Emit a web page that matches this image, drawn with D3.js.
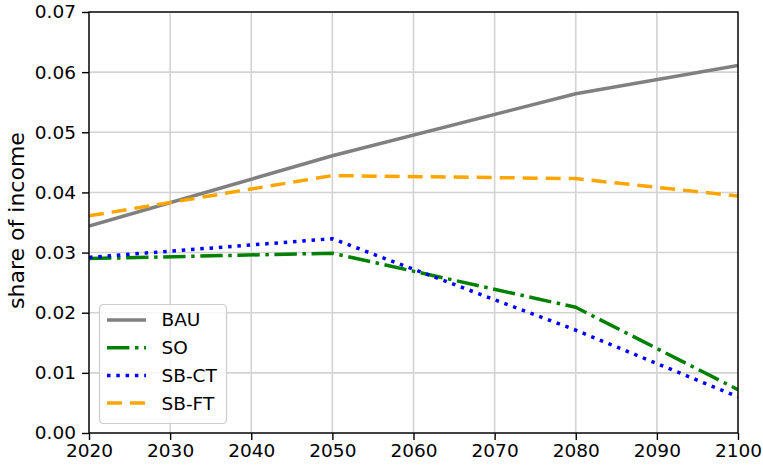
<!DOCTYPE html>
<html>
<head>
<meta charset="utf-8">
<script src="https://cdn.jsdelivr.net/npm/d3@7/dist/d3.min.js"></script>
<style>
  html, body { margin: 0; padding: 0; background: #fff; }
  svg { display: block; font-family: "DejaVu Sans", sans-serif; }
</style>
</head>
<body>
<svg id="chart" width="763" height="470"></svg>
<script>
// Scenario years and share-of-income values per scenario
const years = [2020, 2050, 2080, 2100];
const bau   = [0.0344, 0.0461, 0.0564, 0.0611];
const so    = [0.0290, 0.0299, 0.0209, 0.0072];
const sbct  = [0.0292, 0.0323, 0.0171, 0.0060];
const sbft  = [0.0361, 0.0428, 0.0423, 0.0394];

const xTicks = [2020, 2030, 2040, 2050, 2060, 2070, 2080, 2090, 2100];
const yTicks = [0, 0.01, 0.02, 0.03, 0.04, 0.05, 0.06, 0.07];
const yLabel = "share of income";

const series = [
  { name: "BAU",   values: bau,  color: "#808080", dash: null },
  { name: "SO",    values: so,   color: "#008000", dash: "22.4,5.6,3.5,5.6" },
  { name: "SB-CT", values: sbct, color: "#0000ff", dash: "3.5,5.8" },
  { name: "SB-FT", values: sbft, color: "#ffa500", dash: "15,8" }
];

const margin = { left: 89, right: 763 - 738, top: 12, bottom: 470 - 433 };
const W = 763, H = 470;
const svg = d3.select("#chart");

const x = d3.scaleLinear().domain([2020, 2100]).range([margin.left, W - margin.right]);
const y = d3.scaleLinear().domain([0, 0.07]).range([H - margin.bottom, margin.top]);

// grid
const grid = svg.append("g").attr("stroke", "#d3d3d3").attr("stroke-width", 1.6);
grid.selectAll("line.gx").data(xTicks).join("line")
  .attr("x1", d => x(d)).attr("x2", d => x(d))
  .attr("y1", y(0)).attr("y2", y(0.07));
grid.selectAll("line.gy").data(yTicks).join("line")
  .attr("x1", x(2020)).attr("x2", x(2100))
  .attr("y1", d => y(d)).attr("y2", d => y(d));

// series lines
const line = d3.line().x((d, i) => x(years[i])).y(d => y(d));
const clipId = "plotclip";
svg.append("clipPath").attr("id", clipId).append("rect")
  .attr("x", x(2020)).attr("y", y(0.07))
  .attr("width", x(2100) - x(2020)).attr("height", y(0) - y(0.07));
const lines = svg.append("g").attr("clip-path", `url(#${clipId})`);
series.forEach(s => {
  lines.append("path")
    .datum(s.values)
    .attr("d", line)
    .attr("fill", "none")
    .attr("stroke", s.color)
    .attr("stroke-width", 3.5)
    .attr("stroke-dasharray", s.dash)
    .attr("stroke-linejoin", "round");
});

// axes
const fontSize = 18.5;
const xAxis = d3.axisBottom(x).tickValues(xTicks).tickFormat(d3.format("d")).tickSizeOuter(0).tickSize(7).tickPadding(4);
const yAxis = d3.axisLeft(y).tickValues(yTicks).tickFormat(d3.format(".2f")).tickSizeOuter(0).tickSize(7).tickPadding(6);

const gx = svg.append("g").attr("transform", `translate(0,${y(0)})`).call(xAxis);
const gy = svg.append("g").attr("transform", `translate(${x(2020)},0)`).call(yAxis);
[gx, gy].forEach(g => {
  g.select(".domain").remove();
  g.selectAll(".tick line").attr("stroke", "#000").attr("stroke-width", 1.4);
  g.selectAll(".tick text").attr("fill", "#000").style("font-size", fontSize + "px")
    .style("font-family", "DejaVu Sans");
});

// frame
svg.append("rect")
  .attr("x", x(2020)).attr("y", y(0.07))
  .attr("width", x(2100) - x(2020)).attr("height", y(0) - y(0.07))
  .attr("fill", "none").attr("stroke", "#000").attr("stroke-width", 1.4);

// y label
svg.append("text")
  .attr("transform", `translate(24,${(y(0) + y(0.07)) / 2 - 2}) rotate(-90)`)
  .attr("text-anchor", "middle")
  .attr("font-size", "22px")
  .text(yLabel);

// legend
const lg = svg.append("g").attr("transform", "translate(99.5,304.5)");
lg.append("rect")
  .attr("width", 127).attr("height", 119).attr("rx", 4)
  .attr("fill", "#fff").attr("fill-opacity", 0.8)
  .attr("stroke", "#cccccc").attr("stroke-width", 1.2);
series.forEach((s, i) => {
  const cy = 15.5 + i * 27.7;
  lg.append("line")
    .attr("x1", 7.5).attr("x2", 46.5).attr("y1", cy).attr("y2", cy)
    .attr("stroke", s.color).attr("stroke-width", 3.5)
    .attr("stroke-dasharray", s.dash);
  lg.append("text")
    .attr("x", 62).attr("y", cy).attr("dy", "0.35em")
    .attr("font-size", fontSize + "px")
    .text(s.name);
});
</script>
</body>
</html>
